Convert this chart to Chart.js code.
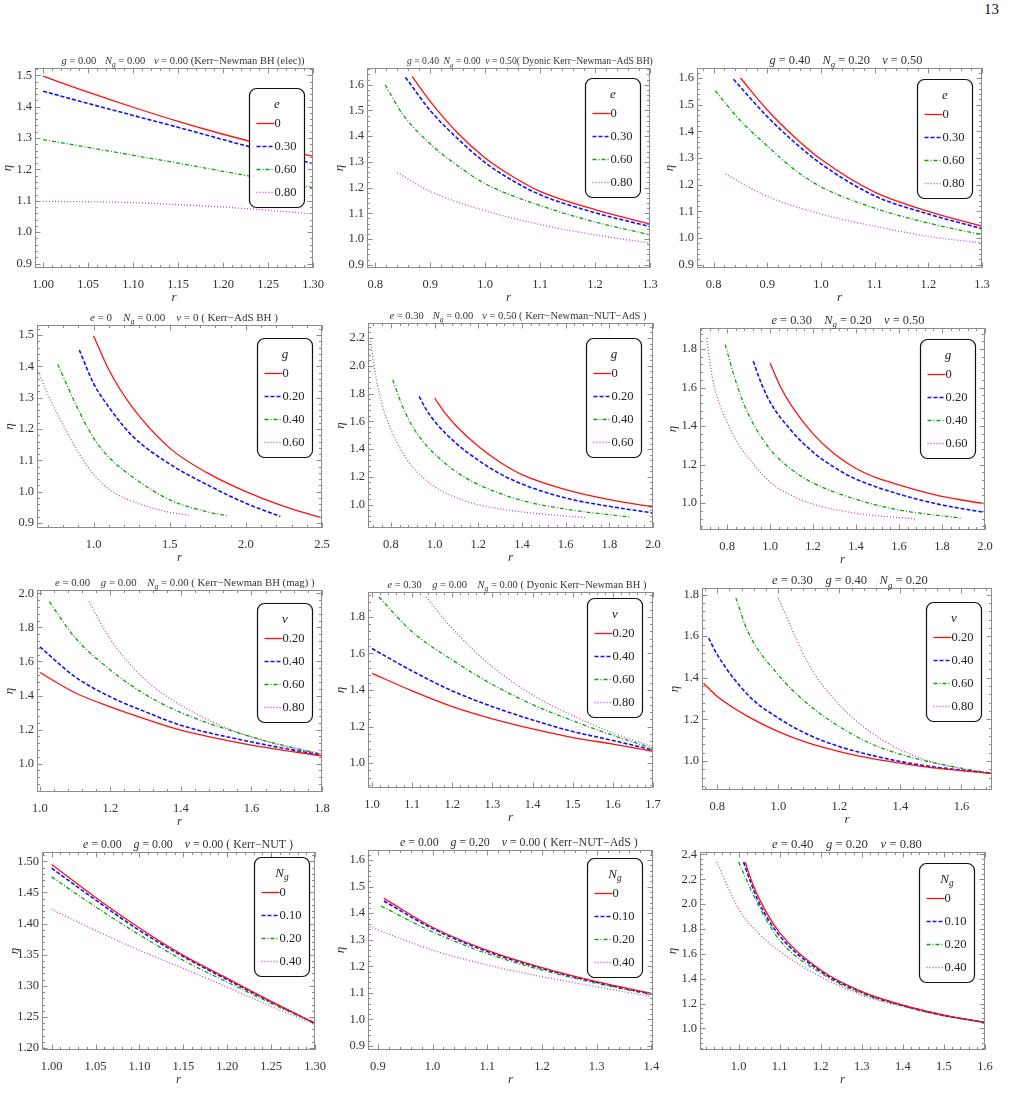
<!DOCTYPE html>
<html>
<head>
<meta charset="utf-8">
<script src="https://cdn.jsdelivr.net/npm/chart.js@4.4.0/dist/chart.umd.min.js"></script>
<style>
body{margin:0;background:#fff;width:1012px;height:1109px;position:relative;overflow:hidden;font-family:'Liberation Serif',serif}
canvas{position:absolute}
#pg{position:absolute;left:984px;top:1px;font-size:15px;color:#111}
</style>
</head>
<body>
<div id="pg">13</div>
<script>
// ---- row 1 : eta vs r, varying e
const p1_xt = [1.00,1.05,1.10,1.15,1.20,1.25,1.30]
const p1_yt = [0.9,1.0,1.1,1.2,1.3,1.4,1.5]
const p1_e0  = [[1.00,1.497],[1.05,1.446],[1.10,1.398],[1.15,1.353],[1.20,1.312],[1.25,1.275],[1.30,1.242]]
const p1_e30 = [[1.00,1.449],[1.05,1.410],[1.10,1.372],[1.15,1.334],[1.20,1.295],[1.25,1.256],[1.30,1.218]]
const p1_e60 = [[1.00,1.295],[1.05,1.270],[1.10,1.245],[1.15,1.220],[1.20,1.194],[1.25,1.168],[1.30,1.142]]
const p1_e80 = [[1.00,1.098],[1.05,1.097],[1.10,1.094],[1.15,1.088],[1.20,1.080],[1.25,1.070],[1.30,1.058]]

const p2_xt = [0.8,0.9,1.0,1.1,1.2,1.3]
const p2_yt = [0.9,1.0,1.1,1.2,1.3,1.4,1.5,1.6]
const p2_e0  = [[0.867,1.632],[0.9,1.535],[0.95,1.412],[1.0,1.315],[1.05,1.243],[1.1,1.185],[1.2,1.114],[1.3,1.058]]
const p2_e30 = [[0.855,1.629],[0.9,1.500],[0.95,1.390],[1.0,1.297],[1.05,1.227],[1.1,1.172],[1.2,1.102],[1.3,1.048]]
const p2_e60 = [[0.818,1.600],[0.85,1.485],[0.9,1.370],[0.95,1.285],[1.0,1.215],[1.1,1.130],[1.2,1.066],[1.3,1.016]]
const p2_e80 = [[0.840,1.258],[0.9,1.185],[1.0,1.110],[1.1,1.056],[1.2,1.016],[1.3,0.984]]

const p3_xt = [0.8,0.9,1.0,1.1,1.2,1.3]
const p3_yt = [0.9,1.0,1.1,1.2,1.3,1.4,1.5,1.6]
const p3_e0  = [[0.850,1.600],[0.9,1.480],[0.95,1.380],[1.0,1.295],[1.1,1.172],[1.2,1.100],[1.3,1.044]]
const p3_e30 = [[0.837,1.595],[0.9,1.455],[0.95,1.360],[1.0,1.278],[1.1,1.158],[1.2,1.090],[1.3,1.035]]
const p3_e60 = [[0.803,1.552],[0.85,1.440],[0.9,1.345],[0.95,1.257],[1.0,1.192],[1.1,1.112],[1.2,1.056],[1.3,1.012]]
const p3_e80 = [[0.822,1.240],[0.9,1.156],[1.0,1.090],[1.1,1.044],[1.2,1.006],[1.3,0.981]]

// ---- row 2 : varying g
const p4_xt = [1.0,1.5,2.0,2.5]
const p4_yt = [0.9,1.0,1.1,1.2,1.3,1.4,1.5]
const p4_g0  = [[1.0,1.497],[1.1,1.389],[1.25,1.272],[1.5,1.139],[1.75,1.059],[2.0,1.000],[2.25,0.953],[2.5,0.916]]
const p4_g20 = [[0.906,1.452],[1.0,1.345],[1.1,1.270],[1.25,1.180],[1.5,1.088],[1.75,1.021],[2.0,0.963],[2.226,0.921]]
const p4_g40 = [[0.764,1.407],[0.9,1.261],[1.0,1.171],[1.1,1.110],[1.25,1.049],[1.5,0.974],[1.75,0.935],[1.88,0.923]]
const p4_g60 = [[0.638,1.383],[0.7,1.310],[0.8,1.213],[0.9,1.125],[1.0,1.055],[1.1,1.008],[1.25,0.970],[1.5,0.934],[1.64,0.924]]

const p5_xt = [0.8,1.0,1.2,1.4,1.6,1.8,2.0]
const p5_yt = [1.0,1.2,1.4,1.6,1.8,2.0,2.2]
const p5_g0  = [[1.0,1.768],[1.05,1.655],[1.1,1.565],[1.2,1.420],[1.3,1.305],[1.4,1.216],[1.6,1.108],[1.8,1.036],[2.0,0.983]]
const p5_g20 = [[0.929,1.780],[0.96,1.690],[1.0,1.600],[1.1,1.440],[1.2,1.320],[1.3,1.222],[1.4,1.148],[1.6,1.048],[1.8,0.988],[2.0,0.940]]
const p5_g40 = [[0.808,1.900],[0.85,1.720],[0.9,1.560],[0.95,1.450],[1.0,1.365],[1.1,1.235],[1.2,1.145],[1.4,1.030],[1.6,0.968],[1.894,0.911]]
const p5_g60 = [[0.705,2.200],[0.73,1.930],[0.76,1.720],[0.8,1.540],[0.85,1.385],[0.9,1.270],[1.0,1.130],[1.1,1.050],[1.2,1.000],[1.4,0.948],[1.697,0.906]]

const p6_xt = [0.8,1.0,1.2,1.4,1.6,1.8,2.0]
const p6_yt = [1.0,1.2,1.4,1.6,1.8]
const p6_g0  = [[1.0,1.727],[1.05,1.600],[1.1,1.505],[1.2,1.360],[1.3,1.255],[1.4,1.180],[1.5,1.130],[1.6,1.095],[1.8,1.035],[2.0,0.997]]
const p6_g20 = [[0.922,1.736],[0.96,1.620],[1.0,1.525],[1.1,1.375],[1.2,1.265],[1.3,1.185],[1.4,1.125],[1.6,1.047],[1.8,0.991],[2.0,0.952]]
const p6_g40 = [[0.791,1.822],[0.85,1.600],[0.9,1.460],[1.0,1.280],[1.1,1.175],[1.2,1.105],[1.4,1.020],[1.6,0.965],[1.891,0.922]]
const p6_g60 = [[0.705,1.857],[0.73,1.660],[0.76,1.530],[0.8,1.420],[0.85,1.310],[0.9,1.235],[1.0,1.110],[1.1,1.040],[1.2,0.995],[1.4,0.948],[1.674,0.919]]

// ---- row 3 : varying v
const p7_xt = [1.0,1.2,1.4,1.6,1.8]
const p7_yt = [1.0,1.2,1.4,1.6,1.8,2.0]
const p7_v20 = [[1.0,1.535],[1.1,1.416],[1.2,1.333],[1.3,1.261],[1.4,1.196],[1.6,1.108],[1.8,1.045]]
const p7_v40 = [[1.0,1.686],[1.1,1.510],[1.2,1.392],[1.3,1.304],[1.4,1.225],[1.6,1.127],[1.8,1.049]]
const p7_v60 = [[1.027,1.951],[1.1,1.740],[1.2,1.550],[1.3,1.405],[1.4,1.300],[1.6,1.157],[1.8,1.053]]
const p7_v80 = [[1.14,1.951],[1.2,1.730],[1.3,1.490],[1.4,1.343],[1.5,1.235],[1.6,1.157],[1.7,1.098],[1.8,1.059]]

const p8_xt = [1.0,1.1,1.2,1.3,1.4,1.5,1.6,1.7]
const p8_yt = [1.0,1.2,1.4,1.6,1.8]
const p8_v20 = [[1.0,1.491],[1.1,1.395],[1.2,1.309],[1.3,1.242],[1.4,1.187],[1.5,1.140],[1.6,1.104],[1.7,1.065]]
const p8_v40 = [[1.0,1.627],[1.1,1.504],[1.2,1.395],[1.3,1.309],[1.4,1.236],[1.5,1.173],[1.6,1.124],[1.7,1.072]]
const p8_v60 = [[1.017,1.909],[1.1,1.718],[1.2,1.564],[1.3,1.430],[1.4,1.320],[1.5,1.232],[1.6,1.152],[1.7,1.080]]
const p8_v80 = [[1.135,1.909],[1.2,1.736],[1.3,1.527],[1.4,1.373],[1.5,1.260],[1.6,1.165],[1.7,1.090]]

const p9_xt = [0.8,1.0,1.2,1.4,1.6]
const p9_yt = [1.0,1.2,1.4,1.6,1.8]
const p9_v20 = [[0.755,1.374],[0.8,1.310],[0.9,1.214],[1.0,1.141],[1.1,1.085],[1.2,1.045],[1.3,1.013],[1.4,0.989],[1.5,0.968],[1.7,0.940]]
const p9_v40 = [[0.772,1.591],[0.8,1.511],[0.9,1.318],[1.0,1.206],[1.1,1.125],[1.2,1.069],[1.3,1.029],[1.4,0.997],[1.5,0.973],[1.7,0.940]]
const p9_v60 = [[0.861,1.784],[0.9,1.623],[1.0,1.414],[1.1,1.270],[1.2,1.165],[1.3,1.085],[1.4,1.032],[1.5,0.994],[1.6,0.965],[1.7,0.940]]
const p9_v80 = [[1.0,1.784],[1.1,1.463],[1.2,1.270],[1.3,1.141],[1.4,1.053],[1.5,0.997],[1.6,0.961],[1.7,0.940]]

// ---- row 4 : varying N_g
const p10_xt = [1.00,1.05,1.10,1.15,1.20,1.25,1.30]
const p10_yt = [1.20,1.25,1.30,1.35,1.40,1.45,1.50]
const p10_n0  = [[1.0,1.495],[1.05,1.442],[1.10,1.393],[1.15,1.349],[1.20,1.312],[1.25,1.275],[1.30,1.240]]
const p10_n10 = [[1.0,1.489],[1.05,1.438],[1.10,1.389],[1.15,1.347],[1.20,1.310],[1.25,1.274],[1.30,1.240]]
const p10_n20 = [[1.0,1.475],[1.05,1.427],[1.10,1.382],[1.15,1.341],[1.20,1.306],[1.25,1.272],[1.30,1.240]]
const p10_n40 = [[1.0,1.423],[1.05,1.389],[1.10,1.357],[1.15,1.328],[1.20,1.298],[1.25,1.267],[1.30,1.238]]

const p11_xt = [0.9,1.0,1.1,1.2,1.3,1.4]
const p11_yt = [0.9,1.0,1.1,1.2,1.3,1.4,1.5,1.6]
const p11_n0  = [[0.911,1.456],[1.0,1.347],[1.1,1.260],[1.2,1.195],[1.3,1.142],[1.4,1.098]]
const p11_n10 = [[0.911,1.446],[1.0,1.342],[1.1,1.256],[1.2,1.192],[1.3,1.140],[1.4,1.096]]
const p11_n20 = [[0.906,1.427],[1.0,1.330],[1.1,1.248],[1.2,1.186],[1.3,1.136],[1.4,1.093]]
const p11_n40 = [[0.885,1.349],[1.0,1.261],[1.1,1.205],[1.2,1.161],[1.3,1.123],[1.4,1.086]]

const p12_xt = [1.0,1.1,1.2,1.3,1.4,1.5,1.6]
const p12_yt = [1.0,1.2,1.4,1.6,1.8,2.0,2.2,2.4]
const p12_n0  = [[1.016,2.338],[1.03,2.200],[1.05,2.044],[1.1,1.770],[1.2,1.469],[1.3,1.295],[1.4,1.187],[1.5,1.107],[1.6,1.048]]
const p12_n10 = [[1.012,2.338],[1.03,2.170],[1.05,2.010],[1.1,1.745],[1.2,1.460],[1.3,1.290],[1.4,1.185],[1.5,1.105],[1.6,1.048]]
const p12_n20 = [[1.0,2.338],[1.05,1.980],[1.1,1.710],[1.2,1.445],[1.3,1.280],[1.4,1.180],[1.5,1.102],[1.6,1.047]]
const p12_n40 = [[0.947,2.338],[1.0,1.960],[1.05,1.760],[1.1,1.620],[1.2,1.415],[1.3,1.268],[1.4,1.174],[1.5,1.099],[1.6,1.045]]

const eLabels = ['0','0.30','0.60','0.80']
const gLabels = ['0','0.20','0.40','0.60']
const vLabels = ['0.20','0.40','0.60','0.80']
const nLabels = ['0','0.10','0.20','0.40']

const SERIF = "'Liberation Serif','DejaVu Serif',serif"
const STY = [
  {borderColor:'#ff1010', borderWidth:1.3, borderDash:[]},
  {borderColor:'#1010ff', borderWidth:1.6, borderDash:[4,2]},
  {borderColor:'#10a010', borderWidth:1.3, borderDash:[4,2,1,2]},
  {borderColor:'#b450b4', borderWidth:1.3, borderDash:[1,2]}
]

// frame = chart area box on the page, leg = [right inset, top inset] of legend box,
// tt = [title centre from frame left, title width]
const PANELS = [
  {frame:[35,68,315,268], xr:[0.991,1.30], yr:[0.886,1.523], xt:p1_xt, yt:p1_yt, xd:2, yd:1, key:'{e}', labels:eLabels, series:[p1_e0,p1_e30,p1_e60,p1_e80], leg:[9,20], tt:[148,243],
   title:'{g} = 0.00    {N}_{g} = 0.00    {v} = 0.00 (Kerr\u2212Newman BH (elec))'},
  {frame:[367,68,650,268], xr:[0.785,1.30], yr:[0.887,1.665], xt:p2_xt, yt:p2_yt, xd:1, yd:1, key:'{e}', labels:eLabels, series:[p2_e0,p2_e30,p2_e60,p2_e80], leg:[10,10], tt:[163,246],
   title:'{g} = 0.40    {N}_{g} = 0.00    {v} = 0.50( Dyonic Kerr\u2212Newman\u2212AdS BH)'},
  {frame:[697,68,982,268], xr:[0.769,1.30], yr:[0.8875,1.6375], xt:p3_xt, yt:p3_yt, xd:1, yd:1, key:'{e}', labels:eLabels, series:[p3_e0,p3_e30,p3_e60,p3_e80], leg:[10,11], tt:[149,153],
   title:'{g} = 0.40    {N}_{g} = 0.20    {v} = 0.50'},
  {frame:[37,325,322,528], xr:[0.628,2.5], yr:[0.884,1.532], xt:p4_xt, yt:p4_yt, xd:1, yd:1, key:'{g}', labels:gLabels, series:[p4_g0,p4_g20,p4_g40,p4_g60], leg:[10,13], tt:[147,188],
   title:'{e} = 0    {N}_{g} = 0.00    {v} = 0 ( Kerr\u2212AdS BH )'},
  {frame:[368,323,653,528], xr:[0.695,2.0], yr:[0.832,2.308], xt:p5_xt, yt:p5_yt, xd:1, yd:1, key:'{g}', labels:gLabels, series:[p5_g0,p5_g20,p5_g40,p5_g60], leg:[12,15], tt:[150,257],
   title:'{e} = 0.30    {N}_{g} = 0.00    {v} = 0.50 ( Kerr\u2212Newman\u2212NUT\u2212AdS )'},
  {frame:[700,328,985,530], xr:[0.674,2.0], yr:[0.861,1.909], xt:p6_xt, yt:p6_yt, xd:1, yd:1, key:'{g}', labels:gLabels, series:[p6_g0,p6_g20,p6_g40,p6_g60], leg:[10,11], tt:[148,153],
   title:'{e} = 0.30    {N}_{g} = 0.20    {v} = 0.50'},
  {frame:[37,590,322,792], xr:[0.992,1.8], yr:[0.833,2.02], xt:p7_xt, yt:p7_yt, xd:1, yd:1, key:'{v}', labels:vLabels, series:[p7_v20,p7_v40,p7_v60,p7_v80], leg:[10,13], tt:[148,260],
   title:'{e} = 0.00    {g} = 0.00    {N}_{g} = 0.00 ( Kerr\u2212Newman BH (mag) )'},
  {frame:[368,592,653,788], xr:[0.99,1.7], yr:[0.864,1.936], xt:p8_xt, yt:p8_yt, xd:1, yd:1, key:'{v}', labels:vLabels, series:[p8_v20,p8_v40,p8_v60,p8_v80], leg:[11,6], tt:[149,259],
   title:'{e} = 0.30    {g} = 0.00    {N}_{g} = 0.00 ( Dyonic Kerr\u2212Newman BH )'},
  {frame:[702,588,992,790], xr:[0.75,1.7], yr:[0.86,1.832], xt:p9_xt, yt:p9_yt, xd:1, yd:1, key:'{v}', labels:vLabels, series:[p9_v20,p9_v40,p9_v60,p9_v80], leg:[11,14], tt:[148,156],
   title:'{e} = 0.30    {g} = 0.40    {N}_{g} = 0.20'},
  {frame:[42,852,317,1050], xr:[0.989,1.30], yr:[1.197,1.515], xt:p10_xt, yt:p10_yt, xd:2, yd:2, key:'{N}_{g}', labels:nLabels, series:[p10_n0,p10_n10,p10_n20,p10_n40], leg:[6,5], tt:[146,210],
   title:'{e} = 0.00    {g} = 0.00    {v} = 0.00 ( Kerr\u2212NUT )'},
  {frame:[368,850,653,1050], xr:[0.882,1.403], yr:[0.885,1.638], xt:p11_xt, yt:p11_yt, xd:1, yd:1, key:'{N}_{g}', labels:nLabels, series:[p11_n0,p11_n10,p11_n20,p11_n40], leg:[11,8], tt:[151,238],
   title:'{e} = 0.00    {g} = 0.20    {v} = 0.00 ( Kerr\u2212NUT\u2212AdS )'},
  {frame:[700,852,985,1050], xr:[0.906,1.60], yr:[0.826,2.419], xt:p12_xt, yt:p12_yt, xd:1, yd:1, key:'{N}_{g}', labels:nLabels, series:[p12_n0,p12_n10,p12_n20,p12_n40], leg:[11,11], tt:[147,150],
   title:'{e} = 0.40    {g} = 0.20    {v} = 0.80'}
]

// {x} italic, _{x} italic subscript, runs of 2+ spaces are stretchable gaps
function parseRich(s){
  const out=[], re=/_\{([^}]*)\}|\{([^}]*)\}|( {2,})|([^{_ ]+ ?| ?)/g
  let m
  while((m=re.exec(s))){
    if(m[0]==='') { re.lastIndex++; continue }
    if(m[1]!==undefined) out.push({t:m[1],it:true,sub:true})
    else if(m[2]!==undefined) out.push({t:m[2],it:true})
    else if(m[3]!==undefined) out.push({t:m[3],gap:true})
    else out.push({t:m[4]})
  }
  return out
}
function segFont(s,size){ return (s.it?'italic ':'')+(s.sub?size*0.72:size)+'px '+SERIF }
function drawRich(ctx,str,cx,y,size,target){
  const segs=parseRich(str)
  const measure=sz=>{ let w=0,g=0,n=0; segs.forEach(s=>{ctx.font=segFont(s,sz); s.w=ctx.measureText(s.t).width; if(s.gap){g+=s.w;n++} else w+=s.w}); return [w,g,n] }
  let [w,g,n]=measure(size), gapW=n?g/n:0
  if(target){
    if(target>=w+g){ size=size*target/(w+g); [w,g,n]=measure(size); gapW=n?g/n:0 }
    else if(target>=w+0.3*g){ gapW=(target-w)/n }
    else { size=size*target/(w+0.3*g); [w,g,n]=measure(size); gapW=0.3*g/n }
  }
  let x=cx-(target||w+g)/2
  ctx.textAlign='left'
  segs.forEach(s=>{
    if(s.gap){ x+=gapW; return }
    ctx.font=segFont(s,size); ctx.fillText(s.t,x,y+(s.sub?size*0.28:0)); x+=s.w
  })
}
function minorVals(t,n,lo,hi){
  const st=(t[1]-t[0])/n, out=[]
  let v=t[0]
  while(v-st>=lo-1e-9) v-=st
  for(;v<=hi+1e-9;v+=st) out.push(v)
  return out
}

const mmaFrame = {
  id:'mmaFrame',
  afterDraw(chart,args,o){
    const {ctx,chartArea:a}=chart
    const sx=chart.scales.x, sy=chart.scales.y
    const L=Math.round(a.left)+0.5, R=Math.round(a.right)-0.5, T=Math.round(a.top)+0.5, B=Math.round(a.bottom)-0.5
    ctx.save()
    ctx.strokeStyle='#8c8c8c'; ctx.lineWidth=1; ctx.setLineDash([])
    ctx.strokeRect(L,T,R-L,B-T)
    const ticks=(vals,len,horiz)=>{
      ctx.beginPath()
      vals.forEach(v=>{
        if(horiz){
          const p=Math.round(sx.getPixelForValue(v))+0.5
          ctx.moveTo(p,B); ctx.lineTo(p,B-len); ctx.moveTo(p,T); ctx.lineTo(p,T+len)
        } else {
          const p=Math.round(sy.getPixelForValue(v))+0.5
          ctx.moveTo(L,p); ctx.lineTo(L+len,p); ctx.moveTo(R,p); ctx.lineTo(R-len,p)
        }
      })
      ctx.stroke()
    }
    ticks(minorVals(o.xt,5,sx.min,sx.max),2.5,true)
    ticks(minorVals(o.yt,5,sy.min,sy.max),2.5,false)
    ticks(o.xt,5,true)
    ticks(o.yt,5,false)

    // title and axis labels
    ctx.fillStyle='#333'; ctx.textBaseline='alphabetic'
    drawRich(ctx,o.title,a.left+o.tt[0],a.top-4,10.5,o.tt[1])
    ctx.textBaseline='middle'
    drawRich(ctx,'{r}',(a.left+a.right)/2,a.bottom+30,13)
    ctx.save()
    ctx.translate(a.left-27,(a.top+a.bottom)/2); ctx.rotate(-Math.PI/2)
    drawRich(ctx,'{\u03b7}',0,0,13)
    ctx.restore()

    // legend box
    const bw=55, bh=119
    const bx=Math.round(a.right-o.leg[0]-bw)+0.5, by=Math.round(a.top+o.leg[1])+0.5
    ctx.beginPath()
    ctx.roundRect(bx,by,bw,bh,7)
    ctx.fillStyle='#fff'; ctx.fill()
    ctx.strokeStyle='#111'; ctx.lineWidth=1.2; ctx.stroke()
    ctx.fillStyle='#222'
    drawRich(ctx,o.key,bx+bw/2,by+16,13)
    chart.data.datasets.forEach((ds,i)=>{
      const yy=Math.round(by+34+i*23)+0.5
      ctx.beginPath()
      ctx.strokeStyle=ds.borderColor; ctx.lineWidth=ds.borderWidth; ctx.setLineDash(ds.borderDash)
      ctx.moveTo(bx+7,yy); ctx.lineTo(bx+25,yy); ctx.stroke()
      ctx.setLineDash([])
      ctx.fillStyle='#222'; ctx.font='12.5px '+SERIF; ctx.textAlign='left'
      ctx.fillText(ds.label,bx+25,yy+0.5)
    })
    ctx.restore()
  }
}

function makePanel(p){
  const [l,t,r,b]=p.frame
  const W=r-l+36+18, H=b-t+20+38
  const cv=document.createElement('canvas')
  cv.width=W; cv.height=H
  cv.style.left=(l-36)+'px'; cv.style.top=(t-20)+'px'
  cv.style.width=W+'px'; cv.style.height=H+'px'
  document.body.appendChild(cv)
  const tickFont={family:SERIF,size:12.5}
  new Chart(cv,{
    type:'line',
    data:{datasets:p.series.map((s,i)=>Object.assign({
      label:p.labels[i],
      data:s.map(([x,y])=>({x,y})),
      pointRadius:0, fill:false, cubicInterpolationMode:'monotone'
    },STY[i]))},
    options:{
      responsive:false, animation:false, events:[],
      layout:{padding:{top:20,right:18,left:0,bottom:0}},
      plugins:{legend:{display:false}, tooltip:{enabled:false},
        mmaFrame:{xt:p.xt, yt:p.yt, title:p.title, key:p.key, leg:p.leg, tt:p.tt}},
      scales:{
        x:{type:'linear', min:p.xr[0], max:p.xr[1],
          grid:{display:false, drawTicks:false}, border:{display:false},
          afterFit:s=>{s.height=38},
          afterBuildTicks:s=>{s.ticks=p.xt.map(v=>({value:v}))},
          ticks:{font:tickFont, color:'#333', padding:9, maxRotation:0, autoSkip:false, callback:v=>v.toFixed(p.xd)}},
        y:{type:'linear', min:p.yr[0], max:p.yr[1],
          grid:{display:false, drawTicks:false}, border:{display:false},
          afterFit:s=>{s.width=36},
          afterBuildTicks:s=>{s.ticks=p.yt.map(v=>({value:v}))},
          ticks:{font:tickFont, color:'#333', padding:3, autoSkip:false, callback:v=>v.toFixed(p.yd)}}
      }
    },
    plugins:[mmaFrame]
  })
}

PANELS.forEach(makePanel)
</script>
</body>
</html>
